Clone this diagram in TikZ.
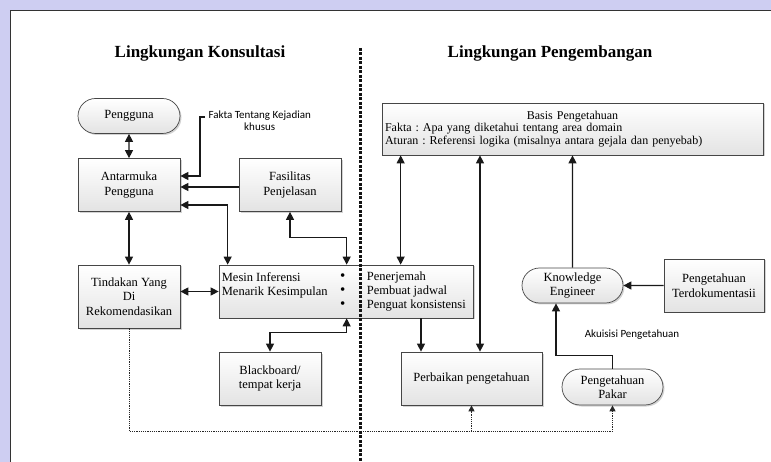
\documentclass[tikz,border=0pt]{standalone}
\usepackage{fontspec}
\setmainfont{Liberation Serif}
\newfontfamily\labelfont{Carlito}
\usetikzlibrary{arrows.meta,shapes.misc,shadows,positioning}
\definecolor{wash}{RGB}{206,206,242}
\newlength{\blockwidth}
\setlength{\blockwidth}{102pt}
\frenchspacing
\tikzset{
    block/.style={draw=gray!55!black, line width=0.7pt, top color=white, bottom color=gray!22,
        drop shadow={shadow xshift=1.5pt, shadow yshift=-1.5pt, opacity=0.35},
        minimum width=\blockwidth, minimum height=53pt, inner sep=2pt, align=center,
        font=\fontsize{12.5}{14.5}\selectfont},
    pill/.style={block, rounded rectangle, inner xsep=0pt, minimum height=35pt},
    tekst/.style={inner sep=0pt, align=left, font=\fontsize{12.5}{14}\selectfont},
    title/.style={font=\bfseries\fontsize{17}{20}\selectfont},
    note/.style={align=center, font=\labelfont\fontsize{11}{12}\selectfont},
    link/.style={draw=gray!20!black, line width=1.1pt, -{Triangle[length=8pt,width=8pt]}},
    twoway/.style={link, {Triangle[length=8pt,width=8pt]}-{Triangle[length=8pt,width=8pt]}},
    dotlink/.style={draw=gray!30!black, line width=0.9pt, dash pattern=on 1.2pt off 1pt,
        -{Triangle[length=6pt,width=6pt]}},
    divider/.style={draw=gray!15!black, line width=3pt, dash pattern=on 3pt off 1.5pt}
}

\begin{document}
\begin{tikzpicture}[x=1pt, y=-1pt]
    \useasboundingbox (0,0) rectangle (771,462);
    \fill[wash] (0,0) rectangle (771,10);
    \fill[wash] (0,0) rectangle (10,462);
    \draw[gray!40!black, line width=0.8pt] (771,10) -- (10,10) -- (10,462);

    \node (konsultasi) [title] at (200,53) {Lingkungan Konsultasi};
    \node (pengembangan) [title] at (550,53) {Lingkungan Pengembangan};

    \node (pengguna) [pill] at (129,116) {Pengguna};
    \node (antarmuka) [block] at (129,185) {Antarmuka\\Pengguna};
    \node (fasilitas) [block] at (290,185) {Fasilitas\\Penjelasan};
    \node (tindakan) [block, minimum height=63pt] at (129,296.5) {Tindakan Yang\\Di\\Rekomendasikan};
    \node (mesin) [block, minimum width=254pt] at (346,291.5) {};
    \node (mesinkiri) [tekst, anchor=west] at ([xshift=3pt,yshift=6.5pt]mesin.west) {Mesin Inferensi\\Menarik Kesimpulan};
    \node (titik) [tekst, align=center, font=\fontsize{15}{14}\selectfont] at ([xshift=124pt]mesin.west) {\textbullet\\\textbullet\\\textbullet};
    \node (mesinkanan) [tekst, anchor=west] at ([xshift=148pt]mesin.west) {Penerjemah\\Pembuat jadwal\\Penguat konsistensi};
    \node (blackboard) [block] at (270,378.5) {Blackboard/\\tempat kerja};

    \node (basis) [block, minimum width=381pt, minimum height=52pt, text width=375pt, align=left,
        font=\fontsize{12}{12.5}\selectfont] at (572.5,129)
        {\makebox[\linewidth]{Basis Pengetahuan}\\Fakta : Apa yang diketahui tentang area domain\\Aturan : Referensi logika (misalnya antara gejala dan penyebab)};
    \node (perbaikan) [block, minimum width=141pt] at (471.5,378.5) {Perbaikan pengetahuan};
    \node (engineer) [pill, minimum width=101pt] at (572.5,285.5) {Knowledge\\Engineer};
    \node (dokumentasi) [block, minimum width=100pt] at (714,285.5) {Pengetahuan\\Terdokumentasii};
    \node (pakar) [pill, minimum width=101pt, minimum height=36pt] at (612.5,387) {Pengetahuan\\Pakar};

    \node (fakta) [note, anchor=west] at (205,121) {Fakta Tentang Kejadian\\khusus};
    \node (akuisisi) [note] at (632,335) {Akuisisi Pengetahuan};

    \draw[twoway] (pengguna) -- (antarmuka);
    \draw[link] ([yshift=4pt]fakta.west) -- ++(-5,0) |- ([yshift=9pt]antarmuka.east);
    \draw[link] ([yshift=-2pt]fasilitas.west) -- ([yshift=-2pt]antarmuka.east);
    \draw[twoway] ([yshift=-20pt]antarmuka.east) -| ([xshift=9pt]mesin.north west);
    \draw[twoway] (antarmuka) -- (tindakan);
    \draw[twoway] (fasilitas.south) -- ++(0,26) -| ([xshift=128pt]mesin.north west);
    \draw[twoway] (tindakan.east |- mesin.west) -- (mesin.west);
    \draw[twoway] ([xshift=128pt]mesin.south west) -- ++(0,14) -| (blackboard.north);
    \draw[twoway] ([xshift=19pt]basis.south west) -- ([xshift=19pt]basis.south west |- mesin.north);
    \draw[link] ([xshift=-50.5pt]perbaikan.north |- mesin.south) -- ([xshift=-50.5pt]perbaikan.north);
    \draw[twoway] ([xshift=8.5pt]perbaikan.north) -- ([xshift=8.5pt]perbaikan.north |- basis.south);
    \draw[link] (engineer) -- (engineer.north |- basis.south);
    \draw[link] (dokumentasi) -- (engineer);
    \draw[link] (pakar.north) -- ++(0,-13) -| ([xshift=-16.5pt]engineer.south);

    \coordinate (dotbase) at (129,431);
    \draw[dotlink] (tindakan.south) |- (pakar.south |- dotbase) -- (pakar.south);
    \draw[dotlink] (perbaikan.south |- dotbase) -- (perbaikan.south);

    \draw[divider] (360,48) -- (360,462);
\end{tikzpicture}
\end{document}
